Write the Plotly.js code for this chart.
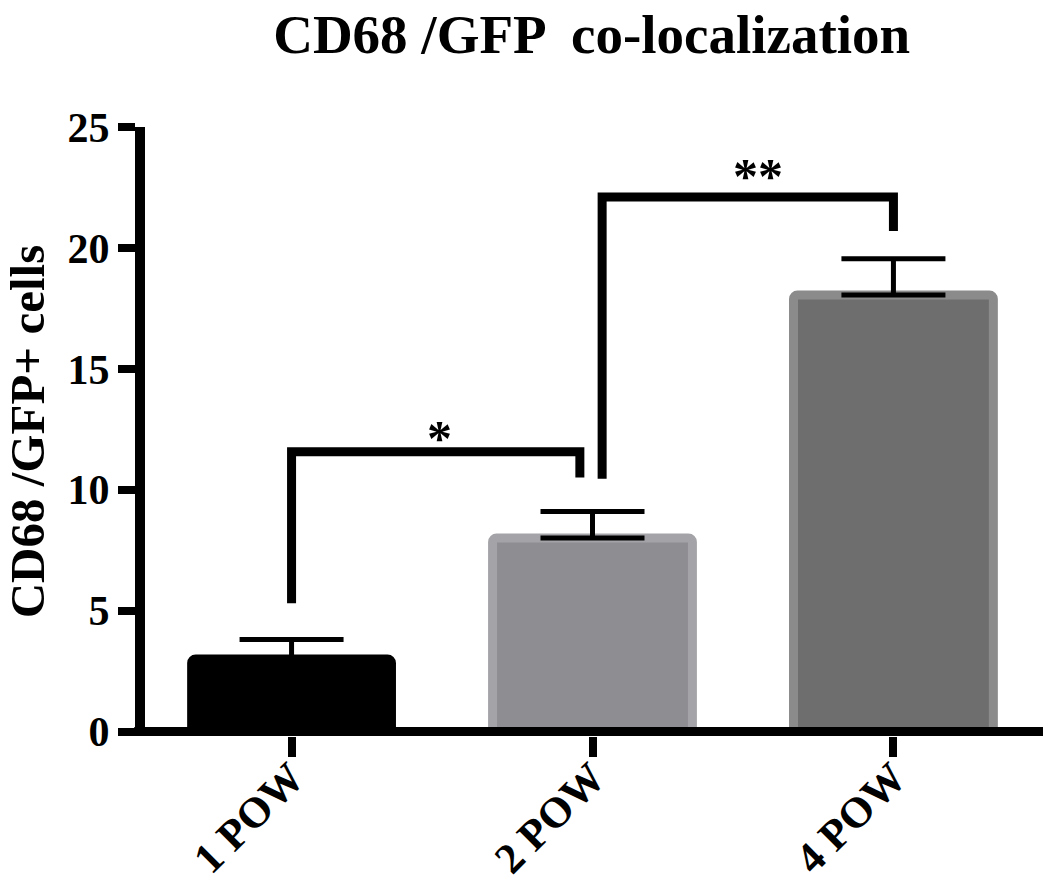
<!DOCTYPE html>
<html>
<head>
<meta charset="utf-8">
<script src="https://cdn.plot.ly/plotly-3.0.1.min.js"></script>
<style>html,body{margin:0;padding:0;background:#fff;}#chart{width:1050px;height:893px;}</style>
</head>
<body>
<div id="chart"></div>
<script>
// ---- data ----
var categories = ['1 POW', '2 POW', '4 POW'];
var catPos = [0, 1, 2];
var means = [3.0, 8.0, 18.05];
var sem = [0.8, 1.1, 1.5];
var fillColors = ['#000000', '#8e8d92', '#6e6e6e'];
var edgeColors = ['#000000', '#a4a3a7', '#8b8b8b'];
var yTicks = [0, 5, 10, 15, 20, 25];

// significance brackets
var sig1X = [0, 0, 0.958, 0.958];
var sig1Y = [5.3, 11.57, 11.57, 10.5];
var sig1Label = '*';
var sig2X = [1.032, 1.032, 2.0, 2.0];
var sig2Y = [10.45, 22.1, 22.1, 20.7];
var sig2Label = '**';

var F = 'Liberation Serif, Times New Roman, serif';

var traces = [
  {
    type: 'bar', x: catPos, y: means, width: 0.664,
    marker: {color: fillColors, line: {color: edgeColors, width: 9}, cornerradius: 4},
    error_y: {type: 'data', array: sem, arrayminus: [0,0,0], symmetric: false,
              color: '#000', thickness: 5, width: 52},
    hoverinfo: 'none', showlegend: false
  },
  {type: 'scatter', mode: 'lines', x: sig1X, y: sig1Y, line: {color: '#000', width: 9},
   hoverinfo: 'none', showlegend: false},
  {type: 'scatter', mode: 'lines', x: sig2X, y: sig2Y, line: {color: '#000', width: 9},
   hoverinfo: 'none', showlegend: false}
];

var layout = {
  width: 1050, height: 893,
  margin: {l: 145, r: 7, t: 127, b: 156.5, pad: 0},
  paper_bgcolor: '#fff', plot_bgcolor: '#fff',
  title: {text: 'CD68 /GFP  co-localization', x: 0.5635, xanchor: 'center',
          y: 0.984, yanchor: 'top', font: {family: F, size: 55, weight: 'bold', color: '#000'}},
  xaxis: {
    range: [-0.487, 2.497], tickvals: catPos, ticktext: categories,
    tickangle: -45, ticks: 'outside', ticklen: 20, tickwidth: 8, tickcolor: '#000',
    ticklabelstandoff: -22,
    showline: false, showgrid: false, zeroline: false,
    tickfont: {family: F, size: 43, weight: 'bold', color: '#000'}
  },
  yaxis: {
    range: [-0.186, 25], tickvals: yTicks, ticks: 'outside', ticklen: 17, tickwidth: 8,
    tickcolor: '#000', showline: true, linewidth: 10, linecolor: '#000',
    showgrid: false, zeroline: false,
    tickfont: {family: F, size: 42, weight: 'bold', color: '#000'},
    title: {text: 'CD68 /GFP+ cells', standoff: 22,
            font: {family: F, size: 49, weight: 'bold', color: '#000'}}
  },
  shapes: [
    {type: 'line', xref: 'paper', yref: 'y', x0: -0.012, x1: 1, y0: 0, y1: 0,
     line: {color: '#000', width: 9}, layer: 'above'}
  ],
  annotations: [
    {x: 0.493, y: 11.57, xref: 'x', yref: 'y', text: sig1Label, showarrow: false,
     yanchor: 'bottom', yshift: -16, font: {family: F, size: 50, weight: 'bold', color: '#000'}},
    {x: 1.55, y: 22.1, xref: 'x', yref: 'y', text: sig2Label, showarrow: false,
     yanchor: 'bottom', yshift: -9, font: {family: F, size: 50, weight: 'bold', color: '#000'}}
  ]
};

Plotly.newPlot('chart', traces, layout, {displayModeBar: false, staticPlot: true});
</script>
</body>
</html>
